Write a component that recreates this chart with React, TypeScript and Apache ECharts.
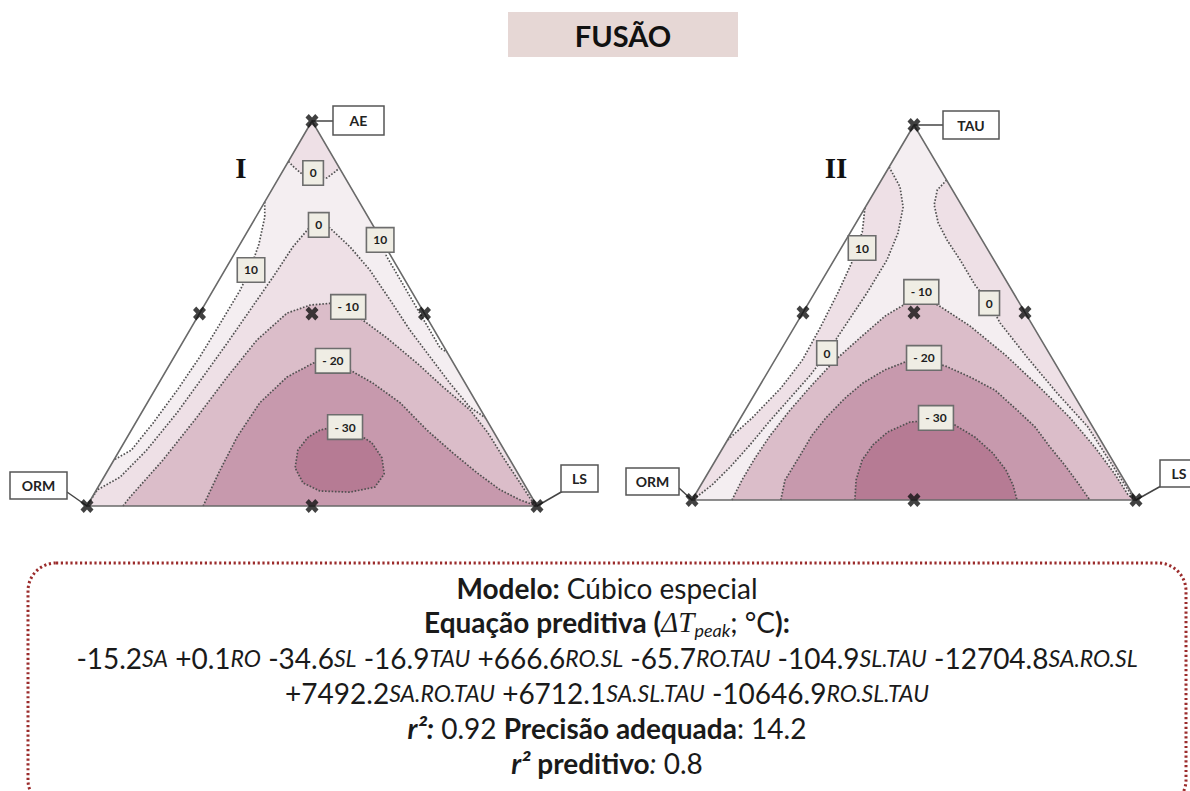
import React, { useEffect, useRef } from 'react';
import * as echarts from 'echarts';

// Compositions are written as [top component %, right component %];
// the left component is the remainder (100 - top - right).
type TP = [number, number];

// ---------- Diagram I : AE (top) / ORM (left) / LS (right) ----------
const I_VERTEX_NAMES = ['AE', 'ORM', 'LS'];
const I_TOP_ZERO: TP[] = [[89.5, 0], [88, 2], [86, 5], [85.7, 7.3], [85.2, 10.7], [86.8, 11.7], [87.8, 12.2]];
const I_LEFT_TEN: TP[] = [[79, 0], [75, 2], [68, 4.2], [61, 5.6], [56, 6], [47.5, 5.9], [38.7, 5.7], [30, 5], [21.5, 3.9], [14.5, 2.6], [12, 0]];
const I_RIGHT_TEN: TP[] = [[67, 33], [65, 34], [56, 43], [48, 51], [41, 58], [40, 60]];
const I_ZERO: TP[] = [[0, 0], [4.2, 0.2], [7.5, 3.6], [14.5, 6], [24.2, 7.9], [33.5, 9], [42.3, 10], [50.9, 10.8], [59.5, 11.6], [67.3, 12.1], [72.5, 13.3], [73.2, 15], [72.2, 17.9], [67.3, 24.8], [61.3, 32.2], [53.5, 40.6], [45.7, 48.9], [38.7, 56.9], [31.9, 64.7], [25.7, 72.2], [22.9, 77.1]];
const I_MINUS10: TP[] = [[0, 8], [2.3, 8.4], [11.9, 10.9], [23.1, 12.9], [33.5, 14.4], [43.1, 16.2], [50.1, 19.4], [52.2, 23.5], [52.7, 28.3], [48.8, 36.3], [43.6, 44.9], [37.1, 54.8], [30.9, 63.7], [24.9, 72.7], [19, 79.6], [12.7, 86.1], [6.8, 92.4], [1.6, 97.9], [0, 100]];
const I_MINUS20: TP[] = [[0, 25.8], [9.4, 24.9], [17.9, 24.4], [26.8, 25], [33.5, 27.7], [37.1, 31.7], [37.9, 35.5], [35.3, 40.8], [31.9, 47.6], [26.8, 56.2], [19.7, 65.7], [13.8, 74.4], [8.6, 82.4], [4.2, 89.7], [1.6, 95.4], [0, 100]];
const I_MINUS30: TP[] = [[20.5, 44.4], [19.2, 50], [16.4, 55.1], [12.5, 59.3], [8.3, 61.9], [4.9, 61.5], [3.6, 56.6], [3.9, 49.8], [6, 45], [9.9, 41.3], [14.5, 39.6], [17.9, 40.2], [19.7, 41.9]];
const I_LEVELS = [0, 0, 10, 10, -10, -20, -30];
const I_LEVEL_AT: TP[] = [[86.5, 7], [73, 15], [61.3, 5.8], [69.1, 30.6], [51.7, 32.2], [37.7, 35.8], [20.5, 47.1]];

// ---------- Diagram II : TAU (top) / ORM (left) / LS (right) ----------
const II_VERTEX_NAMES = ['TAU', 'ORM', 'LS'];
const II_LEFT_ZERO: TP[] = [[88.8, 0], [83.5, 5.1], [78.1, 8.5], [71.2, 10.8], [64, 11.9], [55.2, 11.8], [47.2, 11.3], [39.2, 10.8], [33.3, 10], [27.2, 8.5], [21.1, 7], [14.7, 5.7], [8.8, 4.2], [4, 2.5], [1.1, 0.8], [0, 0]];
const II_LEFT_TEN: TP[] = [[77.9, 0], [71.5, 2.6], [63.5, 4.3], [55.5, 5.2], [45.9, 5.9], [37.3, 6.2], [29.9, 5.1], [21.9, 2.6], [16, 0]];
const II_RIGHT_ZERO: TP[] = [[85.3, 14.7], [82.7, 13.9], [78.7, 15.2], [73.9, 18.5], [69.3, 22.8], [64, 28.4], [57.3, 35.1], [52.5, 40.7], [47.2, 45.8], [38.1, 56.4], [28.5, 68], [19.5, 79.4], [9.9, 89.4], [1.9, 97.7], [0, 100]];
const II_MINUS10: TP[] = [[0, 9], [5.3, 8.6], [11.2, 8.6], [17.1, 9], [24, 10.1], [30.7, 11.7], [37.3, 13.6], [43.2, 16.2], [49.1, 19], [52.3, 21.9], [53.3, 24.7], [52, 29.4], [46.4, 39.4], [38.7, 51.2], [29.9, 63.5], [21.9, 74.2], [13.9, 83.9], [6.7, 92], [1.3, 97.6], [0, 100]];
const II_MINUS20: TP[] = [[0, 20], [5.3, 18.3], [11.5, 18.4], [17.3, 18.4], [21.9, 19.2], [27.2, 20.9], [31.2, 22.9], [34.7, 26.1], [36.8, 29.6], [37.3, 33.6], [35.7, 39.3], [32.8, 46.2], [29.3, 53.6], [24, 61.2], [19.5, 67.5], [14.1, 73.6], [9.3, 79.3], [4.5, 84.7], [0, 89.6]];
const II_MINUS30: TP[] = [[0, 36.7], [5.3, 34.3], [10.7, 33], [14.7, 33.4], [18.1, 35], [20.8, 38.7], [21.3, 44.3], [20, 49.2], [16.8, 55.3], [12.5, 61.5], [8, 66.7], [4, 70.3], [0, 73.2]];
const II_LEVELS = [10, 0, 0, -10, -20, -30];
const II_LEVEL_AT: TP[] = [[67.2, 4.7], [39.2, 10.8], [52.5, 40.7], [55.5, 23.9], [37.9, 33.3], [21.9, 44]];

// Simplex-centroid style design points (vertices, edge midpoints, axial point)
const DESIGN_POINTS: TP[] = [[100, 0], [0, 0], [0, 100], [50, 0], [50, 50], [0, 50], [50, 25]];
const VERTICES: TP[] = [[100, 0], [0, 0], [0, 100]];

// Model summary
const MODEL_NAME = 'Cúbico especial';
const EQ_TERMS: [string, string][] = [
  ['-15.2', 'SA'], ['+0.1', 'RO'], ['-34.6', 'SL'], ['-16.9', 'TAU'], ['+666.6', 'RO.SL'],
  ['-65.7', 'RO.TAU'], ['-104.9', 'SL.TAU'], ['-12704.8', 'SA.RO.SL'],
  ['+7492.2', 'SA.RO.TAU'], ['+6712.1', 'SA.SL.TAU'], ['-10646.9', 'RO.SL.TAU'],
];
const EQ_FIRST_LINE_TERMS = 8;
const R2 = 0.92;
const ADEQ_PRECISION = 14.2;
const R2_PRED = 0.8;

// ---------- styling ----------
const LIGHT = '#f4eef1';
const PINK1 = '#eee0e6';
const PINK2 = '#dbbdc9';
const PINK3 = '#c799ad';
const PINK4 = '#b67b94';
const WHITE = '#ffffff';
const SANS = 'Lato';

// tag box placement relative to its vertex: box offset/size and connector end
const TAGS_I = [
  { dx: 21, dy: -15, w: 51, h: 29, ax: 21, ay: 0 },
  { dx: -77, dy: -34, w: 57, h: 27, ax: -20, ay: -14 },
  { dx: 24, dy: -41, w: 37, h: 27, ax: 26, ay: -15 },
];
const TAGS_II = [
  { dx: 29, dy: -14, w: 56, h: 28, ax: 29, ay: 0 },
  { dx: -66, dy: -32, w: 53, h: 27, ax: -13, ay: -12 },
  { dx: 24, dy: -40, w: 38, h: 27, ax: 25, ay: -14 },
];

const X_SYMBOL = 'path://M0,3L3,0L6,3L9,0L12,3L9,6L12,9L9,12L6,9L3,12L0,9L3,6Z';

const toXY = (p: TP): [number, number] => [p[1] + p[0] / 2, p[0]];
const fmtLevel = (v: number) => (v < 0 ? '- ' + Math.abs(v) : String(v));

interface Region { line: TP[]; close?: TP[]; fill: string }
interface Contour { pts: TP[]; closed?: boolean }

function diagramSeries(
  g: number,
  regions: Region[],
  contours: Contour[],
  levels: number[],
  levelAt: TP[],
  names: string[],
  tags: typeof TAGS_I,
): any[] {
  const base = { coordinateSystem: 'cartesian2d', xAxisIndex: g, yAxisIndex: g, silent: true, animation: false };
  return [
    {
      ...base,
      type: 'custom',
      data: regions.map(() => [50, 50]),
      renderItem: (params: any, api: any) => {
        const r = regions[params.dataIndex];
        const pts = [...r.line, ...(r.close || [])].map((p) => api.coord(toXY(p)));
        return { type: 'polygon', shape: { points: pts }, style: { fill: r.fill, stroke: null } };
      },
    },
    {
      ...base,
      type: 'custom',
      data: contours.map(() => [50, 50]),
      renderItem: (params: any, api: any) => {
        const c = contours[params.dataIndex];
        const pts = c.pts.map((p) => api.coord(toXY(p)));
        return {
          type: c.closed ? 'polygon' : 'polyline',
          shape: { points: pts },
          style: { fill: 'none', stroke: '#505050', lineWidth: 1.7, lineDash: [1.6, 1.7] },
        };
      },
    },
    {
      ...base,
      type: 'custom',
      data: [[50, 50]],
      renderItem: (_p: any, api: any) => ({
        type: 'polygon',
        shape: { points: VERTICES.map((p) => api.coord(toXY(p))) },
        style: { fill: 'none', stroke: '#6a6a6a', lineWidth: 1.6 },
      }),
    },
    {
      ...base,
      type: 'scatter',
      data: DESIGN_POINTS.map(toXY),
      symbol: X_SYMBOL,
      symbolSize: [13, 14],
      itemStyle: { color: '#111' },
      clip: false,
    },
    {
      ...base,
      type: 'custom',
      data: levels.map(() => [50, 50]),
      renderItem: (params: any, api: any) => {
        const [x, y] = api.coord(toXY(levelAt[params.dataIndex]));
        return {
          type: 'text',
          x,
          y,
          style: {
            text: fmtLevel(levels[params.dataIndex]),
            fontSize: 12,
            fontWeight: 'bold',
            fontFamily: SANS,
            fill: '#1d1d1d',
            align: 'center',
            verticalAlign: 'middle',
            backgroundColor: '#efede4',
            borderColor: '#6d6d6d',
            borderWidth: 1.6,
            padding: [6, 6, 5, 6],
          },
        };
      },
    },
    {
      ...base,
      type: 'custom',
      data: names.map(() => [50, 50]),
      renderItem: (params: any, api: any) => {
        const i = params.dataIndex;
        const [vx, vy] = api.coord(toXY(VERTICES[i]));
        const t = tags[i];
        return {
          type: 'group',
          children: [
            { type: 'line', shape: { x1: vx, y1: vy, x2: vx + t.ax, y2: vy + t.ay }, style: { stroke: '#444', lineWidth: 1.5 } },
            { type: 'rect', shape: { x: vx + t.dx, y: vy + t.dy, width: t.w, height: t.h }, style: { fill: '#fff', stroke: '#555', lineWidth: 1.5 } },
            {
              type: 'text',
              x: vx + t.dx + t.w / 2,
              y: vy + t.dy + t.h / 2,
              style: { text: names[i], fontSize: 14, fontWeight: 'bold', fontFamily: SANS, fill: '#222', align: 'center', verticalAlign: 'middle' },
            },
          ],
        };
      },
    },
  ];
}

const TRIANGLE: TP[] = VERTICES;

const I_REGIONS: Region[] = [
  { line: TRIANGLE, fill: LIGHT },
  { line: I_TOP_ZERO, close: [[100, 0]], fill: PINK1 },
  { line: I_LEFT_TEN, fill: WHITE },
  { line: I_RIGHT_TEN, fill: WHITE },
  { line: I_ZERO, close: [[0, 100]], fill: PINK1 },
  { line: I_MINUS10, fill: PINK2 },
  { line: I_MINUS20, fill: PINK3 },
  { line: I_MINUS30, fill: PINK4 },
];
const I_CONTOURS: Contour[] = [
  { pts: I_TOP_ZERO }, { pts: I_LEFT_TEN }, { pts: I_RIGHT_TEN }, { pts: I_ZERO },
  { pts: I_MINUS10 }, { pts: I_MINUS20 }, { pts: I_MINUS30, closed: true },
];
const II_REGIONS: Region[] = [
  { line: TRIANGLE, fill: LIGHT },
  { line: II_LEFT_ZERO, fill: PINK1 },
  { line: II_LEFT_TEN, fill: WHITE },
  { line: II_RIGHT_ZERO, fill: PINK1 },
  { line: II_MINUS10, fill: PINK2 },
  { line: II_MINUS20, fill: PINK3 },
  { line: II_MINUS30, fill: PINK4 },
];
const II_CONTOURS: Contour[] = [
  { pts: II_LEFT_ZERO }, { pts: II_LEFT_TEN }, { pts: II_RIGHT_ZERO },
  { pts: II_MINUS10 }, { pts: II_MINUS20 }, { pts: II_MINUS30 },
];

const FS = 28;
const richBase = {
  n: { fontSize: FS, fontFamily: SANS, fill: '#1a1a1a', lineHeight: 34 },
  b: { fontSize: FS, fontFamily: SANS, fontWeight: 'bold', fill: '#1a1a1a', lineHeight: 34 },
  bi: { fontSize: FS, fontFamily: SANS, fontWeight: 'bold', fontStyle: 'italic', fill: '#1a1a1a', lineHeight: 34 },
  i: { fontSize: FS, fontFamily: SANS, fontStyle: 'italic', fill: '#1a1a1a', lineHeight: 34 },
  v: { fontSize: 23, fontFamily: SANS, fontStyle: 'italic', fill: '#1a1a1a', lineHeight: 34 },
  m: { fontSize: 29, fontFamily: 'Liberation Serif', fontStyle: 'italic', fill: '#1a1a1a', lineHeight: 34 },
  s: { fontSize: 18, fontFamily: SANS, fontStyle: 'italic', fill: '#1a1a1a', lineHeight: 17, verticalAlign: 'bottom' },
};

const eqLine = (terms: [string, string][]) =>
  terms.map(([c, v], k) => `{n|${k ? ' ' : ''}${c}}{v|${v}}`).join('');

function textLine(y: number, text: string) {
  return {
    type: 'text',
    x: 607,
    y,
    silent: true,
    style: { text, rich: richBase, align: 'center', verticalAlign: 'middle', textAlign: 'center', textVerticalAlign: 'middle' },
  };
}

export default function App() {
  const ref = useRef<HTMLDivElement>(null);

  useEffect(() => {
    if (!ref.current) return;
    const chart = echarts.init(ref.current, undefined, { renderer: 'svg' });
    const hidden = { type: 'value', min: 0, max: 100, show: false };
    chart.setOption({
      animation: false,
      grid: [
        { left: 87, top: 121, width: 450, height: 385 },
        { left: 692, top: 125, width: 444, height: 375 },
      ],
      xAxis: [{ ...hidden, gridIndex: 0 }, { ...hidden, gridIndex: 1 }],
      yAxis: [{ ...hidden, gridIndex: 0 }, { ...hidden, gridIndex: 1 }],
      series: [
        ...diagramSeries(0, I_REGIONS, I_CONTOURS, I_LEVELS, I_LEVEL_AT, I_VERTEX_NAMES, TAGS_I),
        ...diagramSeries(1, II_REGIONS, II_CONTOURS, II_LEVELS, II_LEVEL_AT, II_VERTEX_NAMES, TAGS_II),
      ],
      graphic: [
        { type: 'rect', silent: true, shape: { x: 508, y: 12, width: 230, height: 45 }, style: { fill: '#e6d7d5' } },
        {
          type: 'text', x: 623, y: 35, silent: true,
          style: { text: 'FUSÃO', fontSize: 29, fontWeight: 'bold', fontFamily: SANS, fill: '#111', align: 'center', verticalAlign: 'middle', textAlign: 'center', textVerticalAlign: 'middle' },
        },
        {
          type: 'text', x: 241, y: 168, silent: true,
          style: { text: 'I', fontSize: 29, fontWeight: 'bold', fontFamily: 'Liberation Serif', fill: '#111', align: 'center', verticalAlign: 'middle', textAlign: 'center', textVerticalAlign: 'middle' },
        },
        {
          type: 'text', x: 836, y: 168, silent: true,
          style: { text: 'II', fontSize: 29, fontWeight: 'bold', fontFamily: 'Liberation Serif', fill: '#111', align: 'center', verticalAlign: 'middle', textAlign: 'center', textVerticalAlign: 'middle' },
        },
        {
          type: 'rect', silent: true,
          shape: { x: 28, y: 563, width: 1158, height: 245, r: 28 },
          style: { fill: 'none', stroke: '#9b2c2c', lineWidth: 3, lineDash: [2.2, 2.6] },
        },
        textLine(588, `{b|Modelo:}{n| ${MODEL_NAME}}`),
        textLine(622, '{b|Equação preditiva (}{m|ΔT}{s|peak}{n|; °C}{b|):}'),
        textLine(658, eqLine(EQ_TERMS.slice(0, EQ_FIRST_LINE_TERMS))),
        textLine(693, eqLine(EQ_TERMS.slice(EQ_FIRST_LINE_TERMS))),
        textLine(728, `{bi|r²:}{n| ${R2} }{b|Precisão adequada}{n|: ${ADEQ_PRECISION}}`),
        textLine(763, `{bi|r²}{b| preditivo}{i|:}{n| ${R2_PRED}}`),
      ],
    });
    return () => chart.dispose();
  }, []);

  return <div ref={ref} style={{ position: 'absolute', left: 0, top: 0, width: 1190, height: 791 }} />;
}
